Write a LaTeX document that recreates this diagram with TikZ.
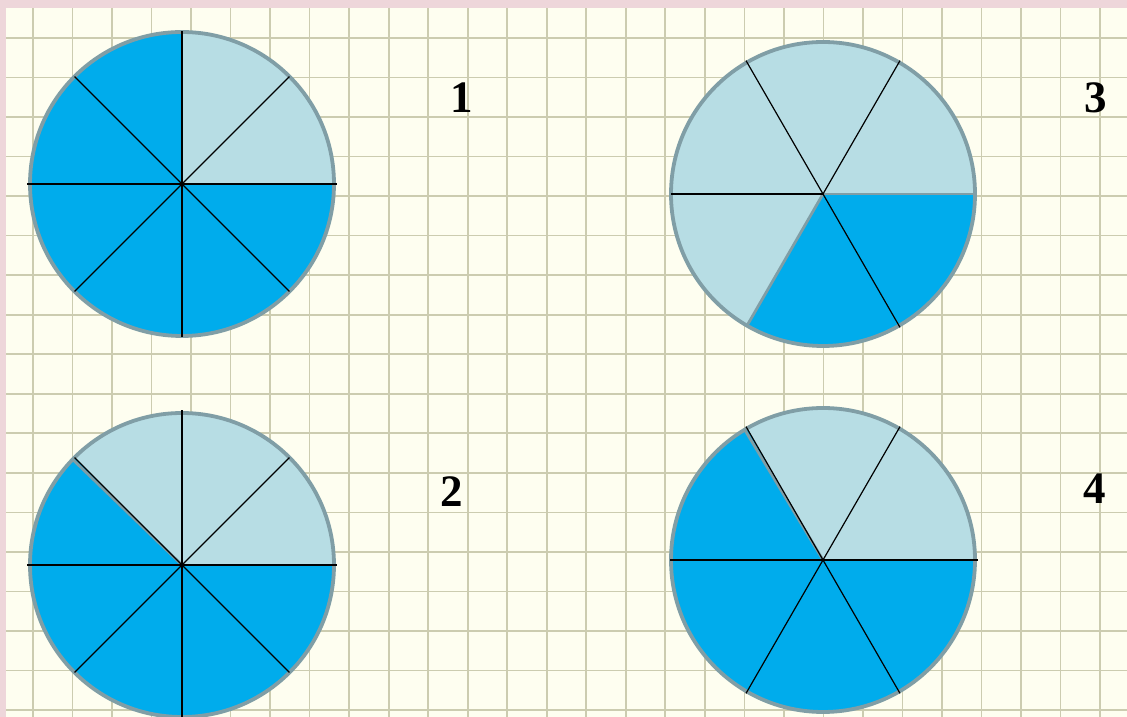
\documentclass[tikz,border=0pt]{standalone}
\usepackage{fontspec}
\setmainfont{Liberation Serif}
\usetikzlibrary{calc}
\definecolor{pinkbd}{RGB}{238,214,218}
\definecolor{paper}{RGB}{254,254,240}
\definecolor{gridc}{RGB}{204,204,176}
\definecolor{dark}{RGB}{0,172,236}
\definecolor{light}{RGB}{183,221,228}
\definecolor{rim}{RGB}{128,158,166}
\tikzset{
  gridline/.style={draw=gridc,line width=1.7pt},
  rimline/.style={draw=rim,line width=3.8pt},
  edgegray/.style={draw=rim,line width=2.8pt},
  radius line/.style={draw=black,line width=1.2pt},
  numlabel/.style={font=\fontsize{45}{45}\selectfont\bfseries,inner sep=0pt}
}
\newcommand{\sect}[5]{\fill[#5] (#1) -- ++(#2:#4) arc[start angle=#2,end angle=#3,radius=#4] -- cycle;}
\begin{document}
\begin{tikzpicture}[x=1pt,y=1pt]
\useasboundingbox (0,0) rectangle (1127,717);
\fill[pinkbd] (0,0) rectangle (1127,717);
\fill[paper] (6,0) rectangle (1127,709);
\begin{scope}
\clip (6,0) rectangle (1127,709);
\foreach \k in {0,...,27} {
  \draw[gridline] ({33+39.52*\k},0) -- ({33+39.52*\k},709);
}
\foreach \k in {0,...,17} {
  \draw[gridline] (6,{717-38-39.53*\k}) -- (1127,{717-38-39.53*\k});
}
\end{scope}
\begin{scope}
\clip (0,0) rectangle (1127,717);
% circle 1
\coordinate (c1) at (182,533);
\sect{c1}{0}{90}{152}{light}
\sect{c1}{90}{360}{152}{dark}
\draw[rimline] (c1) circle[radius=152];
\foreach \a in {45,135,225,315} \draw[radius line] (c1) -- ++(\a:152);
\draw[radius line] ($(c1)+(-155,0)$) -- ($(c1)+(155,0)$);
\draw[radius line] ($(c1)+(0,-153)$) -- ($(c1)+(0,153)$);
% circle 3
\coordinate (c3) at (823,523);
\sect{c3}{0}{240}{152}{light}
\sect{c3}{240}{360}{152}{dark}
\draw[rimline] (c3) circle[radius=152];
\draw[edgegray] (c3) -- ++(0:151);
\draw[edgegray] (c3) -- ++(240:151);
\foreach \a in {60,120,300} \draw[radius line] (c3) -- ++(\a:154);
\draw[radius line] (c3) -- ++(180:152);
% circle 2
\coordinate (c2) at (182,152);
\sect{c2}{0}{135}{152}{light}
\sect{c2}{135}{360}{152}{dark}
\draw[rimline] (c2) circle[radius=152];
\draw[edgegray] (c2) -- ++(136:151);
\foreach \a in {45,135,225,315} \draw[radius line] (c2) -- ++(\a:152);
\draw[radius line] ($(c2)+(-155,0)$) -- ($(c2)+(155,0)$);
\draw[radius line] ($(c2)+(0,-153)$) -- ($(c2)+(0,155)$);
% circle 4
\coordinate (c4) at (823,157);
\sect{c4}{0}{120}{152}{light}
\sect{c4}{120}{360}{152}{dark}
\draw[rimline] (c4) circle[radius=152];
\draw[edgegray] (c4) -- ++(121:151);
\foreach \a in {60,120,240,300} \draw[radius line] (c4) -- ++(\a:154);
\draw[radius line] ($(c4)+(-153,0)$) -- ($(c4)+(155,0)$);
\end{scope}
\node[numlabel] (n1) at (462,619) {1};
\node[numlabel] (n3) at (1096,619) {3};
\node[numlabel] (n2) at (452,225) {2};
\node[numlabel] (n4) at (1095,228) {4};
\end{tikzpicture}
\end{document}
